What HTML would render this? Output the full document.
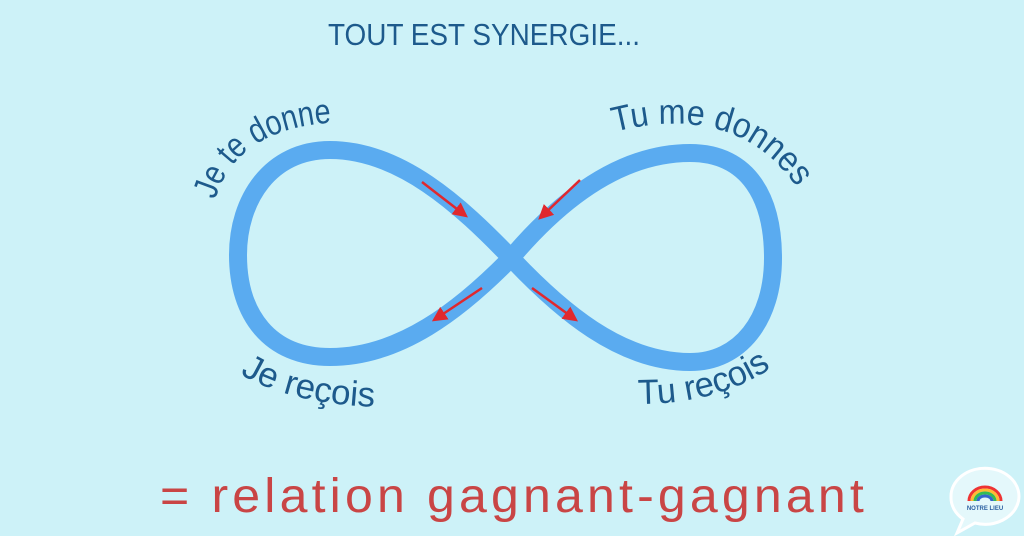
<!DOCTYPE html>
<html><head><meta charset="utf-8"><style>
html,body{margin:0;padding:0;background:#cdf2f8;}
svg{display:block}
</style></head><body>
<svg width="1024" height="536" viewBox="0 0 1024 536" xmlns="http://www.w3.org/2000/svg">
<rect width="1024" height="536" fill="#cdf2f8"/>
<defs>
<marker id="ah" markerWidth="6" markerHeight="6" refX="5" refY="3" orient="auto" markerUnits="strokeWidth">
<path d="M0,0 L6,3 L0,6 Z" fill="#e0282e"/></marker>
<path id="p1" d="M215,200 Q238,122 352,122"/>
<path id="p2" d="M614,132 Q740,100 800,192"/>
<path id="p3" d="M240,374 Q290,404 378,407"/>
<path id="p4" d="M638,404 Q720,404 774,366"/>
</defs>
<text x="328" y="45" font-family="Liberation Sans, sans-serif" font-size="31" fill="#1d5a8c" textLength="312" lengthAdjust="spacingAndGlyphs">TOUT EST SYNERGIE...</text>
<path d="M511,258 C560,200 620,153 690,153 C750,153 773,200 773,258 C773,320 740,362 690,362 C620,362 560,310 511,258 C460,205 400,150 330,150 C270,150 238,200 238,255 C238,315 270,357 330,357 C400,357 460,310 511,258 Z" fill="none" stroke="#5aabf0" stroke-width="18"/>
<g stroke="#e0282e" stroke-width="2.5" marker-end="url(#ah)">
<line x1="422" y1="182" x2="466" y2="216"/>
<line x1="580" y1="180" x2="540" y2="218"/>
<line x1="482" y1="288" x2="434" y2="320"/>
<line x1="532" y1="288" x2="576" y2="320"/>
</g>
<g font-family="Liberation Sans, sans-serif" font-size="35" fill="#1d5a8c">
<text><textPath href="#p1" textLength="150" lengthAdjust="spacingAndGlyphs">Je te donne</textPath></text>
<text><textPath href="#p2" textLength="205" lengthAdjust="spacingAndGlyphs">Tu me donnes</textPath></text>
<text><textPath href="#p3" textLength="140" lengthAdjust="spacingAndGlyphs">Je reçois</textPath></text>
<text><textPath href="#p4" textLength="140" lengthAdjust="spacingAndGlyphs">Tu reçois</textPath></text>
</g>
<text x="160" y="512" font-family="Liberation Sans, sans-serif" font-size="48" fill="#c94545" textLength="708" lengthAdjust="spacingAndGlyphs" letter-spacing="4">= relation gagnant-gagnant</text>
<g transform="translate(985,497)">
<path d="M-34,0 A34,28 0 1 1 -10,26 L-28,36 L-22,22 A34,28 0 0 1 -34,0 Z" fill="#e4f8fb" stroke="#fff" stroke-width="3"/>
<path d="M-16,4 A16,14 0 0 1 16,4" fill="none" stroke="#e33" stroke-width="3"/>
<path d="M-13,4 A13,11 0 0 1 13,4" fill="none" stroke="#fb3" stroke-width="3"/>
<path d="M-10,4 A10,8 0 0 1 10,4" fill="none" stroke="#3b5" stroke-width="3"/>
<path d="M-7,4 A7,5 0 0 1 7,4" fill="none" stroke="#36c" stroke-width="3"/>
<text x="0" y="13" font-family="Liberation Sans, sans-serif" font-size="6" font-weight="bold" fill="#2a5fa0" text-anchor="middle">NOTRE LIEU</text>
</g>
</svg>
</body></html>
